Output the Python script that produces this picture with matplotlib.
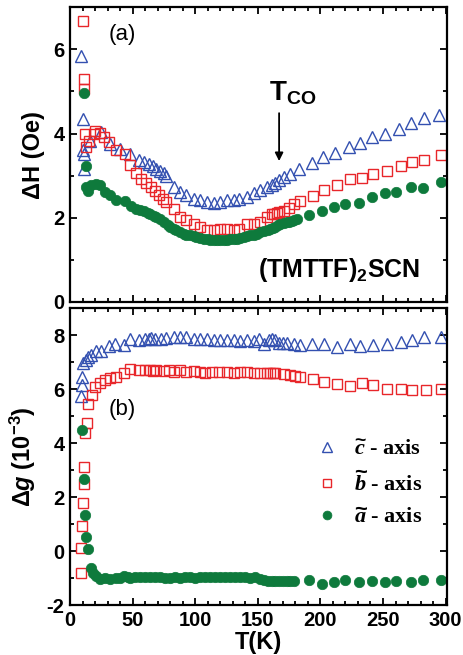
import matplotlib
matplotlib.use("Agg")
import matplotlib.pyplot as plt
from matplotlib.ticker import MultipleLocator

plt.rcParams['font.family'] = ['Liberation Sans', 'DejaVu Sans']
plt.rcParams['mathtext.fontset'] = 'custom'
plt.rcParams['mathtext.rm'] = 'Liberation Sans:bold'
plt.rcParams['mathtext.bf'] = 'Liberation Sans:bold'
plt.rcParams['mathtext.it'] = 'Liberation Sans:italic:bold'
plt.rcParams['mathtext.cal'] = 'Liberation Serif:italic:bold'
plt.rcParams['mathtext.default'] = 'rm'
plt.rcParams['axes.unicode_minus'] = False

# ---- panel (a): linewidth ΔH (Oe) ----
Tc_a = [8.5, 10, 10.5, 11, 11.5, 16, 25, 32, 40, 48, 55, 59, 63, 66, 69, 72, 75, 77, 83, 88, 93, 99,
        104, 109, 115, 120, 125, 131, 135, 141, 147, 152, 157, 161, 164, 167, 171, 176, 183, 193,
        202, 212, 223, 232, 241, 252, 263, 272, 283, 295]
Hc_a = [5.83, 4.35, 3.6, 3.52, 3.16, 3.83, 4.03, 3.75, 3.64, 3.52, 3.38, 3.32, 3.28, 3.22, 3.16, 3.1,
        3.06, 3.0, 2.73, 2.6, 2.53, 2.45, 2.41, 2.37, 2.35, 2.37, 2.41, 2.43, 2.45, 2.49, 2.58, 2.65,
        2.73, 2.77, 2.82, 2.89, 2.96, 3.04, 3.16, 3.3, 3.45, 3.53, 3.68, 3.77, 3.91, 4.0, 4.11, 4.25,
        4.37, 4.45]

Tb_a = [10, 11, 11, 12, 13, 15.5, 19, 20, 24, 27, 31, 37, 44, 48, 53, 57, 61, 65, 68, 71, 74, 77,
        83, 88, 93, 99, 104, 109, 115, 120, 125, 131, 135, 141, 147, 152, 157, 161, 163, 165, 167,
        171, 175, 179, 184, 194, 203, 213, 224, 233, 242, 253, 264, 273, 283, 296]
Hb_a = [6.68, 5.3, 5.06, 3.99, 3.68, 3.83, 3.99, 4.07, 4.01, 3.91, 3.79, 3.6, 3.52, 3.26, 3.06, 2.92,
        2.82, 2.73, 2.63, 2.53, 2.45, 2.37, 2.21, 2.02, 1.95, 1.84, 1.78, 1.72, 1.70, 1.74, 1.74,
        1.72, 1.74, 1.84, 1.84, 1.9, 2.02, 2.08, 2.1, 2.12, 2.13, 2.17, 2.24, 2.32, 2.4, 2.51, 2.65,
        2.77, 2.92, 2.95, 3.04, 3.12, 3.22, 3.32, 3.38, 3.48]

Ta_a = [11, 12.5, 13, 14, 17, 21, 24, 28, 32, 37, 44, 49, 53, 56, 59, 62, 64, 67, 69, 72, 75, 78, 80,
        83, 85, 88, 91, 93, 96, 99, 101, 104, 107, 110, 112, 115, 117, 120, 123, 125, 128, 131,
        133, 136, 139, 141, 144, 147, 149, 152, 155, 158, 160, 162, 164, 166, 168, 171, 173, 175,
        177, 179, 181, 191, 201, 211, 220, 231, 241, 252, 260, 272, 282, 296]
Ha_a = [4.96, 3.22, 2.73, 2.63, 2.77, 2.81, 2.77, 2.61, 2.53, 2.43, 2.39, 2.29, 2.21, 2.19, 2.16,
        2.12, 2.09, 2.05, 2.02, 1.96, 1.9, 1.83, 1.78, 1.74, 1.70, 1.66, 1.62, 1.6, 1.58, 1.56,
        1.54, 1.52, 1.5, 1.49, 1.48, 1.47, 1.46, 1.46, 1.48, 1.48, 1.49, 1.5, 1.5, 1.52, 1.54,
        1.56, 1.58, 1.6, 1.62, 1.65, 1.68, 1.71, 1.74, 1.76, 1.78, 1.82, 1.86, 1.88, 1.9, 1.91,
        1.92, 1.95, 1.98, 2.06, 2.16, 2.25, 2.33, 2.35, 2.49, 2.58, 2.62, 2.73, 2.71, 2.86]

# ---- panel (b): g-shift Δg (1e-3) ----
Tc_b = [8.5, 9.3, 9.5, 10.7, 12.5, 14.7, 17, 21, 25, 31, 36, 43, 48, 55, 60, 63, 65, 68, 73, 77, 83,
        88, 93, 99, 104, 109, 115, 120, 125, 131, 136, 141, 147, 151, 155, 159, 161, 164, 167, 170,
        173, 179, 184, 193, 203, 213, 224, 232, 242, 253, 264, 273, 283, 296]
gc_b = [5.75, 6.16, 6.47, 6.97, 7.1, 7.21, 7.28, 7.4, 7.43, 7.59, 7.69, 7.65, 7.87, 7.84, 7.87, 7.88,
        7.9, 7.87, 7.87, 7.9, 7.94, 7.94, 7.94, 7.87, 7.86, 7.86, 7.84, 7.84, 7.81, 7.81, 7.77,
        7.81, 7.77, 7.86, 7.69, 7.82, 7.86, 7.82, 7.72, 7.7, 7.7, 7.69, 7.65, 7.69, 7.69, 7.56,
        7.69, 7.61, 7.65, 7.69, 7.74, 7.84, 7.94, 7.94]

Tb_b = [8.5, 8.6, 9.3, 10, 11, 11, 12, 13.3, 14.7, 17.3, 20, 24, 28, 32, 37, 43, 48, 55, 60, 64, 66,
        69, 75, 79, 83, 88, 93, 99, 104, 108, 113, 119, 125, 131, 136, 141, 147, 152, 157, 160,
        162, 164, 171, 176, 180, 184, 194, 203, 213, 224, 233, 242, 253, 264, 273, 284, 296]
gb_b = [-0.81, 0.12, 0.93, 1.8, 2.49, 3.11, 4.38, 4.75, 5.45, 5.78, 6.09, 6.24, 6.34, 6.41, 6.47,
        6.62, 6.74, 6.72, 6.72, 6.7, 6.68, 6.7, 6.69, 6.72, 6.65, 6.72, 6.65, 6.69, 6.65, 6.59,
        6.65, 6.65, 6.65, 6.62, 6.65, 6.65, 6.62, 6.62, 6.59, 6.6, 6.59, 6.59, 6.57, 6.53, 6.49,
        6.44, 6.37, 6.28, 6.19, 6.12, 6.22, 6.16, 6.0, 6.0, 5.97, 5.97, 6.0]

Ta_b = [9.3, 11, 12, 12.8, 14, 16.5, 18.7, 21, 24, 28, 32, 37, 40, 43, 46, 48, 52, 56, 60, 64, 68,
        72, 76, 80, 84, 88, 92, 96, 100, 104, 108, 112, 116, 120, 124, 128, 132, 136, 140, 144,
        148, 152, 155, 158, 161, 164, 167, 170, 173, 176, 179, 191, 201, 211, 220, 231, 241, 252,
        260, 272, 282, 296]
ga_b = [4.5, 2.66, 1.33, 0.52, 0.06, -0.62, -0.81, -0.93, -1.02, -1.0, -1.02, -1.0, -0.98, -0.93,
        -0.96, -1.0, -0.97, -0.96, -0.95, -0.96, -0.97, -0.95, -0.98, -0.99, -0.97, -0.98, -0.97,
        -0.96, -0.98, -0.97, -0.96, -0.97, -0.96, -0.95, -0.97, -0.96, -0.95, -0.97, -0.96, -0.98,
        -0.97, -1.02, -1.08, -1.1, -1.12, -1.12, -1.12, -1.11, -1.12, -1.12, -1.11, -1.09, -1.22,
        -1.14, -1.07, -1.14, -1.12, -1.14, -1.12, -1.14, -1.09, -1.06]

BLUE = '#3350b0'
RED = '#e8262a'
GREEN = '#0e7a3c'

fig = plt.figure(figsize=(4.64, 6.55), dpi=100)
ax1 = fig.add_axes([0.151, 0.539, 0.812, 0.450])
ax2 = fig.add_axes([0.151, 0.0763, 0.812, 0.453])

tri = dict(marker='^', ls='none', ms=8, mfc='none', mec=BLUE, mew=1.0)
sq = dict(marker='s', ls='none', ms=7, mfc='none', mec=RED, mew=1.0)
cir = dict(marker='o', ls='none', ms=7.5, mfc=GREEN, mec=GREEN, mew=0.5)

ax1.plot(Tc_a, Hc_a, **tri)
ax1.plot(Tb_a, Hb_a, **sq)
ax1.plot(Ta_a, Ha_a, **cir)

l1, = ax2.plot(Tc_b, gc_b, **tri)
l2, = ax2.plot(Tb_b, gb_b, **sq)
l3, = ax2.plot(Ta_b, ga_b, **cir)

for ax in (ax1, ax2):
    ax.set_xlim(0, 301)
    ax.xaxis.set_major_locator(MultipleLocator(50))
    ax.xaxis.set_minor_locator(MultipleLocator(10))
    ax.yaxis.set_major_locator(MultipleLocator(2))
    ax.yaxis.set_minor_locator(MultipleLocator(1))
    ax.tick_params(which='both', direction='in', top=True, right=True, width=1.3)
    ax.tick_params(which='major', length=5, labelsize=14.5, pad=4)
    ax.tick_params(which='minor', length=3)
    for s in ax.spines.values():
        s.set_linewidth(1.6)
    for lab in ax.get_xticklabels() + ax.get_yticklabels():
        lab.set_fontweight('bold')

ax1.set_ylim(0, 7)
ax1.tick_params(labelbottom=False)
ax2.set_ylim(-2, 9)

ax1.set_ylabel('ΔH (Oe)', fontsize=17, fontweight='bold', labelpad=6)
ax2.set_ylabel(r'Δ$\mathit{g}$ (10$^{-3}$)', fontsize=17, fontweight='bold', labelpad=6)
ax2.set_xlabel('T(K)', fontsize=17, fontweight='bold', labelpad=1)

ax1.text(42, 6.35, '(a)', fontsize=16, ha='center', va='center')
ax2.text(42, 5.25, '(b)', fontsize=16, ha='center', va='center')

ax1.annotate('', xy=(167, 3.28), xytext=(167, 4.55),
             arrowprops=dict(arrowstyle='-|>', color='black', lw=1.3, mutation_scale=12))
ax1.text(159, 4.95, r'T$_{CO}$', fontsize=20, fontweight='bold', ha='left', va='center')
ax1.text(215, 0.75, r'(TMTTF)$_{2}$SCN', fontsize=18, fontweight='bold', ha='center', va='center')

leg = ax2.legend([l1, l2, l3],
                 [r'$\widetilde{\mathcal{c}}$ - axis', r'$\widetilde{\mathcal{b}}$ - axis',
                  r'$\widetilde{\mathcal{a}}$ - axis'],
                 loc='upper left', bbox_to_anchor=(0.6, 0.625), frameon=False,
                 prop={'family': 'Liberation Serif', 'weight': 'bold', 'size': 16},
                 handletextpad=0.7, labelspacing=0.5, handlelength=1.0, markerscale=0.85)

fig.savefig('out.png', dpi=100)
